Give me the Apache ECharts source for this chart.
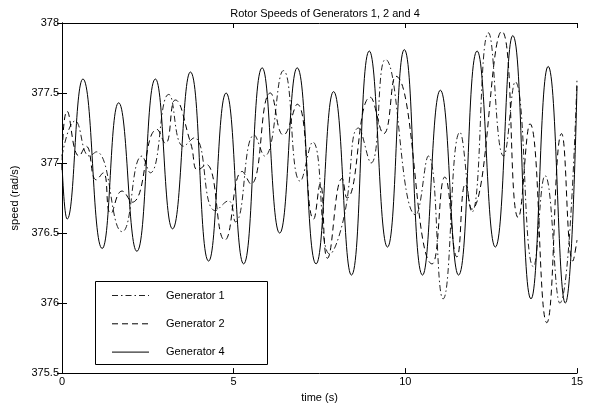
<!DOCTYPE html>
<html><head><meta charset="utf-8">
<script src="https://cdn.jsdelivr.net/npm/echarts@6/dist/echarts.min.js"></script>
<style>html,body{margin:0;padding:0;background:#fff}#c{width:592px;height:408px}</style>
</head><body><div id="c"></div>
<script>
// Generator 4 (solid) (extrema)
const g4Time  = [0, 0.15, 0.61, 1.17, 1.65, 2.18, 2.72, 3.22, 3.74, 4.27, 4.78, 5.29, 5.83, 6.34, 6.85, 7.40, 7.91, 8.43, 8.95, 9.48, 9.97, 10.50, 11.02, 11.55, 12.09, 12.62, 13.13, 13.66, 14.16, 14.66, 15];
const g4Speed = [377.0, 376.60, 377.60, 376.39, 377.43, 376.37, 377.60, 376.53, 377.65, 376.30, 377.50, 376.28, 377.68, 376.50, 377.68, 376.28, 377.51, 376.20, 377.80, 376.40, 377.81, 376.20, 377.52, 376.20, 377.80, 376.40, 377.91, 376.03, 377.69, 376.00, 377.55];
// Generator 1 (dash-dot)
const g1Time  = [0, 0.38, 0.8, 1.0, 1.75, 2.33, 2.57, 3.11, 3.54, 3.85, 4.47, 4.85, 5.05, 5.6, 5.9, 6.45, 6.94, 7.3, 7.8, 8.2, 8.64, 9.0, 9.42, 10.3, 10.67, 11.1, 11.59, 11.94, 12.42, 12.86, 13.2, 13.73, 14.07, 14.5, 15];
const g1Speed = [377.05, 377.30, 377.05, 377.08, 376.51, 377.05, 376.93, 377.49, 377.12, 377.18, 376.66, 376.73, 376.58, 377.2, 377.05, 377.66, 376.87, 377.15, 376.35, 376.6, 377.25, 377.0, 377.74, 376.63, 377.05, 376.03, 377.22, 376.65, 377.93, 377.05, 377.58, 376.26, 376.91, 376.0, 377.6];
// Generator 2 (dashed)
const g2Time  = [0, 0.15, 0.5, 0.7, 1.0, 1.2, 1.42, 1.75, 2.04, 2.77, 3.01, 3.3, 3.75, 3.96, 4.2, 4.74, 5.25, 5.5, 6.07, 6.45, 6.85, 7.33, 7.52, 7.73, 8.16, 8.3, 8.98, 9.37, 9.72, 10.78, 11.15, 11.5, 11.75, 11.93, 12.81, 13.29, 13.63, 14.12, 14.55, 14.88, 15];
const g2Speed = [376.95, 377.37, 377.05, 377.12, 376.88, 376.93, 376.64, 376.80, 376.72, 377.24, 377.14, 377.45, 377.14, 376.95, 376.99, 376.45, 376.94, 376.85, 377.5, 377.2, 377.42, 376.6, 376.85, 376.32, 376.89, 376.75, 377.47, 377.21, 377.62, 376.28, 376.9, 376.33, 376.85, 376.67, 377.94, 376.61, 377.28, 375.86, 377.21, 376.3, 376.45];
const xTicks = [0, 5, 10, 15];
const yTicks = [375.5, 376, 376.5, 377, 377.5, 378];
const legendNames = ['Generator 1', 'Generator 2', 'Generator 4'];

const zip = (t, v) => t.map((x, i) => [x, v[i]]);
const font = 'Liberation Sans, Arial, Helvetica, sans-serif';
const dashes = [[6, 3, 1.5, 3], [6, 4], null];
const colors = ['#222', '#000', '#000'];
const chart = echarts.init(document.getElementById('c'), null, {renderer: 'canvas'});
const axisCommon = {
  axisLine: {show: true, lineStyle: {color: '#000', width: 1}},
  axisTick: {show: true, inside: true, length: 5, lineStyle: {color: '#000'}},
  splitLine: {show: false}
};
// Legend drawn as graphic (box, line samples, labels)
const legendGraphic = [{type: 'rect', shape: {x: 95.5, y: 281.5, width: 172, height: 83},
  style: {fill: '#fff', stroke: '#000', lineWidth: 1}, z: 10}];
legendNames.forEach((n, i) => {
  const y = 295.5 + i * 28.3;
  legendGraphic.push({type: 'line', shape: {x1: 112, y1: y, x2: 149, y2: y},
    style: {stroke: colors[i], lineWidth: 1, lineDash: dashes[i] || null}, z: 11});
  legendGraphic.push({type: 'text', x: 166, y: y, style: {text: n, fill: '#000', font: '11px ' + font, verticalAlign: 'middle', textAlign: 'left'}, z: 11});
});
chart.setOption({
  animation: false,
  backgroundColor: '#fff',
  title: {text: 'Rotor Speeds of Generators 1, 2 and 4', left: 320, textAlign: 'center', top: 3,
    textStyle: {fontFamily: font, fontSize: 11, fontWeight: 'normal', color: '#000'}},
  grid: {left: 62, right: 15, top: 23, bottom: 25, containLabel: false},
  xAxis: [
    Object.assign({type: 'value', min: xTicks[0], max: xTicks[xTicks.length - 1], interval: 5, position: 'bottom',
      name: 'time (s)', nameLocation: 'middle', nameGap: 17,
      nameTextStyle: {fontFamily: font, fontSize: 11, color: '#000'},
      axisLabel: {fontFamily: font, fontSize: 11, color: '#000', margin: 3}}, axisCommon),
    Object.assign({type: 'value', min: 0, max: 15, interval: 5, position: 'top', axisLabel: {show: false}}, axisCommon)
  ],
  yAxis: [
    Object.assign({type: 'value', min: yTicks[0], max: yTicks[yTicks.length - 1], interval: 0.5, position: 'left',
      name: 'speed (rad/s)', nameLocation: 'middle', nameGap: 32,
      nameTextStyle: {fontFamily: font, fontSize: 11, color: '#000'},
      axisLabel: {fontFamily: font, fontSize: 11, color: '#000', margin: 3}}, axisCommon),
    Object.assign({type: 'value', min: 375.5, max: 378, interval: 0.5, position: 'right', axisLabel: {show: false}}, axisCommon)
  ],
  graphic: legendGraphic,
  series: [
    {name: legendNames[0], type: 'line', data: zip(g1Time, g1Speed), smooth: 0.5, symbol: 'none',
      lineStyle: {color: colors[0], width: 1, type: dashes[0]}, z: 3},
    {name: legendNames[1], type: 'line', data: zip(g2Time, g2Speed), smooth: 0.5, symbol: 'none',
      lineStyle: {color: colors[1], width: 1, type: dashes[1]}, z: 3},
    {name: legendNames[2], type: 'line', data: zip(g4Time, g4Speed), smooth: 0.5, symbol: 'none',
      lineStyle: {color: colors[2], width: 1, type: 'solid'}, z: 3}
  ]
});
</script></body></html>
